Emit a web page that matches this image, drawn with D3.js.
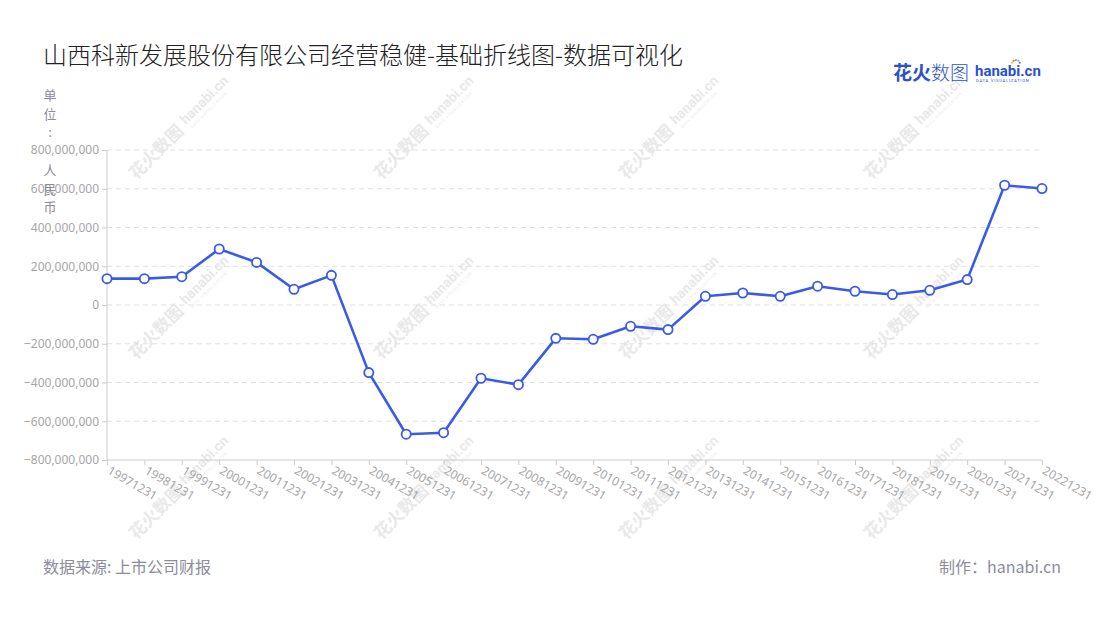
<!DOCTYPE html>
<html>
<head>
<meta charset="utf-8">
<script src="https://cdn.jsdelivr.net/npm/d3@7/dist/d3.min.js"></script>
<style>
  body { margin: 0; background: #fff; }
  svg { display: block; font-family: "Noto Sans CJK SC", "Noto Sans", sans-serif; }
</style>
</head>
<body>
<div id="chart"></div>
<script>
// 年报日期
const years = ['19971231', '19981231', '19991231', '20001231', '20011231', '20021231',
  '20031231', '20041231', '20051231', '20061231', '20071231', '20081231', '20091231',
  '20101231', '20111231', '20121231', '20131231', '20141231', '20151231', '20161231',
  '20171231', '20181231', '20191231', '20201231', '20211231', '20221231'];

// 净利润 (人民币)
const profit = [136e6, 136e6, 146e6, 289e6, 220e6, 81e6, 153e6, -349e6, -667e6, -659e6,
  -378e6, -411e6, -172e6, -177e6, -110e6, -127e6, 45e6, 62e6, 45e6, 97e6,
  71e6, 54e6, 76e6, 131e6, 618e6, 601e6];

const yTicks = [-800e6, -600e6, -400e6, -200e6, 0, 200e6, 400e6, 600e6, 800e6];

const W = 1100, H = 620;
const margin = { left: 107, right: 58, top: 150, bottom: 160 };

const svg = d3.select('#chart').append('svg')
  .attr('width', W).attr('height', H);

// watermark
const wmX = [183, 428, 673, 918];
const wmY = [125, 305, 485];
const wm = svg.append('g').attr('fill', '#e9e9e9');
wmY.forEach(wy => wmX.forEach(wx => {
  const g = wm.append('g').attr('transform', `translate(${wx},${wy}) rotate(-45)`);
  g.append('text').attr('x', -72).attr('y', 6)
    .attr('font-size', 17).attr('font-weight', 'bold').text('花火数图');
  g.append('text').attr('x', 2).attr('y', 2)
    .attr('font-size', 14).attr('font-weight', 'bold')
    .attr('font-family', 'Roboto, sans-serif').text('hanabi.cn');
  g.append('text').attr('x', 4).attr('y', 9)
    .attr('font-size', 4).attr('font-family', 'Roboto, sans-serif')
    .attr('letter-spacing', 0.6).text('DATA VISUALIZATION');
}));

const x = d3.scalePoint()
  .domain(years)
  .range([margin.left, W - margin.right]);

const y = d3.scaleLinear()
  .domain([-800e6, 800e6])
  .range([H - margin.bottom, margin.top]);

// grid
svg.append('g')
  .selectAll('line')
  .data(yTicks.filter(d => d !== -800e6))
  .join('line')
  .attr('x1', margin.left).attr('x2', W - margin.right)
  .attr('y1', d => y(d)).attr('y2', d => y(d))
  .attr('stroke', '#e0e0e0')
  .attr('stroke-dasharray', '5,4');

// y axis
const yAxis = svg.append('g')
  .attr('transform', `translate(${margin.left},0)`)
  .call(d3.axisLeft(y).tickValues(yTicks).tickSize(5).tickPadding(3)
    .tickFormat(d3.format(',')));
yAxis.selectAll('path, line').attr('stroke', '#cccccc');
yAxis.selectAll('text').attr('fill', '#a6a6a6').attr('font-size', 12)
  .attr('font-family', '"Noto Sans", sans-serif');
yAxis.select('.domain').attr('d', `M0,${margin.top}V${H - margin.bottom}`);

// x axis
const xAxis = svg.append('g')
  .attr('transform', `translate(0,${H - margin.bottom})`)
  .call(d3.axisBottom(x).tickSize(5).tickSizeOuter(0));
xAxis.selectAll('path, line').attr('stroke', '#cccccc');
xAxis.select('.domain').attr('d', `M${margin.left},0H${W - margin.right}`);
xAxis.selectAll('text')
  .attr('fill', '#a6a6a6').attr('font-size', 12)
  .attr('font-family', '"Noto Sans", sans-serif')
  .attr('text-anchor', 'start')
  .attr('y', 0).attr('dy', 0)
  .attr('transform', 'translate(-1,13) rotate(30)');

// y axis name, one char per line
const unit = ['单', '位', ':', '', '人', '民', '币'];
svg.append('g').selectAll('text')
  .data(unit)
  .join('text')
  .attr('x', 50)
  .attr('y', (d, i) => 100 + i * 18.7)
  .attr('text-anchor', 'middle')
  .attr('fill', '#8c8c9c')
  .attr('font-size', 13)
  .text(d => d);

// line
svg.append('path')
  .datum(profit)
  .attr('fill', 'none')
  .attr('stroke', '#3a5be8')
  .attr('stroke-width', 2.6)
  .attr('stroke-linejoin', 'round')
  .attr('d', d3.line().x((d, i) => x(years[i])).y(d => y(d)));

svg.append('g').selectAll('circle')
  .data(profit)
  .join('circle')
  .attr('cx', (d, i) => x(years[i]))
  .attr('cy', d => y(d))
  .attr('r', 4.6)
  .attr('fill', '#fff')
  .attr('stroke', '#3a5be8')
  .attr('stroke-width', 1.8);

// title
svg.append('text')
  .attr('x', 43).attr('y', 64)
  .attr('fill', '#222')
  .attr('font-size', 24)
  .attr('font-weight', 300)
  .text('山西科新发展股份有限公司经营稳健-基础折线图-数据可视化');

// logo
const logo = svg.append('g').attr('fill', '#2b53c6');
logo.append('text').attr('x', 893).attr('y', 80)
  .attr('font-size', 19).attr('font-weight', 'bold').text('花火');
logo.append('text').attr('x', 931).attr('y', 80)
  .attr('font-size', 19).attr('font-weight', 300).text('数图');
logo.append('text').attr('x', 975).attr('y', 76)
  .attr('font-size', 15).attr('font-weight', 'bold')
  .attr('font-family', 'Roboto, sans-serif').text('hanabi.cn');
logo.append('text').attr('x', 976).attr('y', 82)
  .attr('font-size', 4.2).attr('font-family', 'Roboto, sans-serif')
  .attr('letter-spacing', 0.7).text('DATA VISUALIZATION');
const dotColors = ['#f5b731', '#e84e6a', '#42b5e8', '#6fcf54', '#9b59d0'];
logo.append('g').selectAll('circle')
  .data(dotColors)
  .join('circle')
  .attr('cx', (d, i) => 1016 + Math.cos(Math.PI * (1.1 + i * 0.2)) * 4)
  .attr('cy', (d, i) => 64 + Math.sin(Math.PI * (1.1 + i * 0.2)) * 4)
  .attr('r', 1.1)
  .attr('fill', d => d);

// footer
svg.append('text')
  .attr('x', 43).attr('y', 573)
  .attr('fill', '#8c8c9c').attr('font-size', 16)
  .text('数据来源: 上市公司财报');
svg.append('text')
  .attr('x', 1061).attr('y', 573)
  .attr('text-anchor', 'end')
  .attr('fill', '#8c8c9c').attr('font-size', 16)
  .text('制作：hanabi.cn');
</script>
</body>
</html>
